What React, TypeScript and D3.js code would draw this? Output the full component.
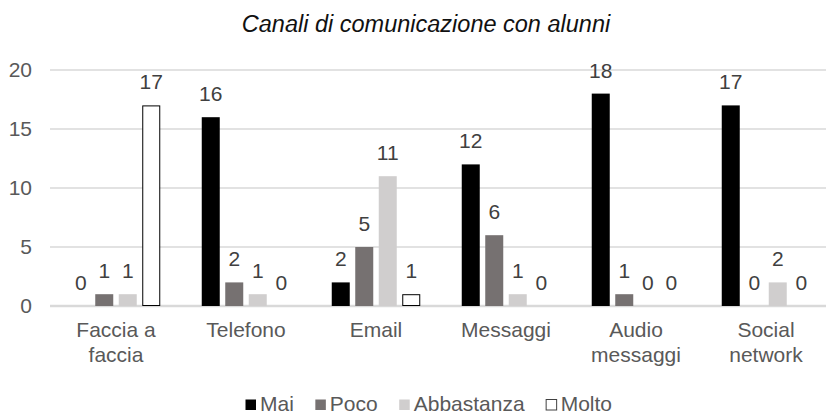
import React, { useEffect, useRef } from 'react';
import * as d3 from 'd3';

const title = 'Canali di comunicazione con alunni';
const categories = ['Faccia a faccia', 'Telefono', 'Email', 'Messaggi', 'Audio messaggi', 'Social network'];
const categoryLines = [['Faccia a', 'faccia'], ['Telefono'], ['Email'], ['Messaggi'], ['Audio', 'messaggi'], ['Social', 'network']];
const seriesNames = ['Mai', 'Poco', 'Abbastanza', 'Molto'];
const mai = [0, 16, 2, 12, 18, 17];
const poco = [1, 2, 5, 6, 1, 0];
const abbastanza = [1, 1, 11, 1, 0, 2];
const molto = [17, 0, 1, 0, 0, 0];
const yTicks = [0, 5, 10, 15, 20];

const fills = ['#000000', '#767171', '#d0cece', '#ffffff'];
const strokes = ['none', 'none', 'none', '#000000'];

const App = () => {
  const svgRef = useRef<SVGSVGElement>(null);

  useEffect(() => {
    document.body.style.margin = '0';
    const svg = d3.select(svgRef.current);
    svg.selectAll('*').remove();

    const width = 826;
    const height = 412;
    const font = 'Arial, "Liberation Sans", sans-serif';
    const fontSize = 21;
    const values = [mai, poco, abbastanza, molto];

    // scales
    const x0 = d3.scaleBand().domain(categories).range([51, 831]).padding(0);
    const groupWidth = 88.5;
    const x1 = d3.scaleBand().domain(seriesNames).range([0, groupWidth]).paddingInner(5.5 / 23.5).paddingOuter(0);
    const groupOffset = (x0.bandwidth() - groupWidth) / 2;
    const y = d3.scaleLinear().domain([0, 20]).range([306, 70]);

    svg.append('rect').attr('width', width).attr('height', height).attr('fill', '#fff');

    // title
    svg.append('text')
      .attr('x', 426)
      .attr('y', 32)
      .attr('text-anchor', 'middle')
      .attr('font-family', font)
      .attr('font-size', 23.5)
      .attr('font-style', 'italic')
      .attr('fill', '#111')
      .text(title);

    // gridlines
    svg.append('g')
      .selectAll('line')
      .data(yTicks)
      .join('line')
      .attr('x1', 50)
      .attr('x2', 831)
      .attr('y1', d => y(d))
      .attr('y2', d => y(d))
      .attr('stroke', '#d9d9d9')
      .attr('stroke-width', d => (d === 0 ? 2.5 : 1.5));

    // y tick labels
    svg.append('g')
      .selectAll('text')
      .data(yTicks)
      .join('text')
      .attr('x', 32)
      .attr('y', d => y(d))
      .attr('dy', '0.35em')
      .attr('text-anchor', 'end')
      .attr('font-family', font)
      .attr('font-size', fontSize)
      .attr('fill', '#595959')
      .text(d => d);

    // bars + labels
    seriesNames.forEach((s, si) => {
      const g = svg.append('g');
      const data = values[si].map((v, i) => ({ cat: categories[i], v }));
      const inset = si === 3 ? 0.5 : 0;
      g.selectAll('rect')
        .data(data.filter(d => d.v > 0))
        .join('rect')
        .attr('x', d => (x0(d.cat) as number) + groupOffset + (x1(s) as number) + inset)
        .attr('y', d => y(d.v) + inset)
        .attr('width', x1.bandwidth() - inset * 2)
        .attr('height', d => y(0) - y(d.v) - inset * 2)
        .attr('fill', fills[si])
        .attr('stroke', strokes[si])
        .attr('stroke-width', 1);

      g.selectAll('text')
        .data(data)
        .join('text')
        .attr('x', d => (x0(d.cat) as number) + groupOffset + (x1(s) as number) + x1.bandwidth() / 2)
        .attr('y', d => y(d.v) - 16)
        .attr('text-anchor', 'middle')
        .attr('font-family', font)
        .attr('font-size', fontSize)
        .attr('fill', '#404040')
        .text(d => d.v);
    });

    // category labels (wrapped like the original)
    const catG = svg.append('g');
    categories.forEach((c, i) => {
      const cx = (x0(c) as number) + x0.bandwidth() / 2;
      const t = catG.append('text')
        .attr('text-anchor', 'middle')
        .attr('font-family', font)
        .attr('font-size', fontSize)
        .attr('fill', '#595959');
      categoryLines[i].forEach((line, li) => {
        t.append('tspan')
          .attr('x', cx)
          .attr('y', 337 + li * 24.5)
          .text(line);
      });
    });

    // legend
    const legend = svg.append('g');
    let cursor = 0;
    seriesNames.forEach((s, si) => {
      const item = legend.append('g').attr('transform', `translate(${cursor},0)`);
      item.append('rect')
        .attr('x', 0.5)
        .attr('y', 399.5)
        .attr('width', 10.5)
        .attr('height', 10.5)
        .attr('fill', fills[si])
        .attr('stroke', si === 3 ? '#404040' : 'none')
        .attr('stroke-width', 1);
      const txt = item.append('text')
        .attr('x', 15)
        .attr('y', 411)
        .attr('font-family', font)
        .attr('font-size', fontSize)
        .attr('fill', '#595959')
        .text(s);
      const tw = (txt.node() as SVGTextElement).getComputedTextLength();
      cursor += 15 + tw + 21;
    });
    const total = cursor - 21;
    legend.attr('transform', `translate(${428.5 - total / 2},0)`);
  }, []);

  return (
    <svg ref={svgRef} width={826} height={412} style={{ display: 'block' }} />
  );
};

export default App;
